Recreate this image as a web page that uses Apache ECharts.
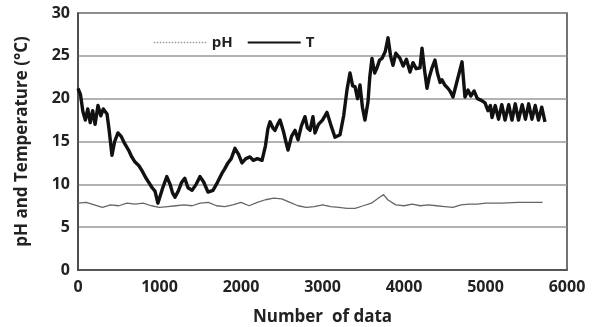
<!DOCTYPE html>
<html>
<head>
<meta charset="utf-8">
<script src="https://cdn.jsdelivr.net/npm/echarts@6/dist/echarts.min.js"></script>
<style>
  html, body { margin: 0; padding: 0; background: #fff; }
  #chart { width: 597px; height: 327px; }
</style>
</head>
<body>
<div id="chart"></div>
<script>
// temperature trace (x = sample number, y = deg C)
const tX = [0, 30, 60, 90, 120, 150, 180, 210, 245, 280, 310, 356, 380, 417, 450, 490, 530, 570, 620, 660,
    700, 745, 785, 830, 870, 910, 945, 980, 1000, 1040, 1090, 1130, 1160, 1190, 1230, 1270, 1310, 1350, 1400, 1450,
    1497, 1540, 1595, 1656, 1710, 1767, 1800, 1840, 1880, 1926, 1970, 2012, 2060, 2110, 2150, 2200, 2258, 2300, 2330, 2356,
    2390, 2417, 2450, 2479, 2520, 2550, 2577, 2620, 2663, 2700, 2740, 2785, 2815, 2847, 2883, 2908, 2950, 3000, 3055, 3100,
    3153, 3215, 3260, 3300, 3337, 3370, 3399, 3430, 3460, 3490, 3521, 3558, 3580, 3607, 3640, 3669, 3700, 3730, 3770, 3804,
    3835, 3865, 3900, 3951, 3990, 4030, 4074, 4110, 4150, 4196, 4221, 4250, 4282, 4310, 4344, 4380, 4410, 4442, 4466, 4500,
    4540, 4570, 4601, 4650, 4712, 4748, 4785, 4820, 4860, 4900, 4950, 4994, 5030, 5060, 5080, 5120, 5160, 5200, 5240, 5285,
    5325, 5365, 5405, 5450, 5490, 5530, 5570, 5610, 5650, 5690, 5730];
const tY = [21.2, 20.5, 18.5, 17.5, 18.8, 17.2, 18.6, 17.0, 19.2, 18.0, 18.8, 18.2, 16.5, 13.4, 15.0, 16.0, 15.6, 14.8, 14.0, 13.2,
    12.6, 12.2, 11.6, 10.8, 10.2, 9.6, 9.2, 7.8, 8.0, 9.6, 10.9, 10.0, 9.0, 8.5, 9.2, 10.2, 10.7, 9.6, 9.3, 10.0,
    10.9, 10.3, 9.1, 9.3, 10.2, 11.3, 11.8, 12.5, 13.0, 14.2, 13.5, 12.5, 13.0, 13.2, 12.8, 13.0, 12.8, 14.5, 16.5, 17.3,
    16.6, 16.3, 17.0, 17.5, 16.2, 15.0, 14.0, 15.6, 16.3, 15.2, 16.8, 17.9, 16.6, 16.3, 17.9, 16.0, 17.0, 17.5, 18.4, 17.0,
    15.5, 15.8, 18.0, 21.0, 23.0, 21.5, 21.4, 20.0, 21.6, 19.0, 17.5, 19.6, 22.5, 24.7, 23.0, 23.6, 24.5, 24.7, 25.5, 27.1,
    25.0, 23.9, 25.3, 24.7, 23.8, 24.6, 23.1, 24.2, 23.5, 23.6, 25.9, 23.5, 21.2, 22.5, 23.6, 24.5, 23.0, 21.9, 22.2, 21.6,
    21.2, 20.8, 20.2, 22.0, 24.3, 20.2, 21.0, 20.3, 20.9, 20.0, 19.8, 19.5, 18.6, 19.2, 17.8, 19.2, 17.6, 19.3, 17.5, 19.3,
    17.5, 19.4, 17.5, 19.3, 17.6, 19.4, 17.6, 19.2, 17.5, 19.0, 17.3];

// pH trace
const phX = [0, 100, 200, 300, 400, 500, 600, 700, 800, 900, 1000, 1100, 1200, 1300, 1400, 1500, 1600, 1700, 1800, 1900,
    2000, 2100, 2200, 2300, 2400, 2500, 2600, 2700, 2800, 2900, 3000, 3100, 3200, 3300, 3400, 3500, 3600, 3700, 3750, 3800,
    3900, 4000, 4100, 4200, 4300, 4400, 4500, 4600, 4700, 4800, 4900, 5000, 5200, 5400, 5600, 5700];
const phY = [7.8, 7.9, 7.6, 7.3, 7.6, 7.5, 7.8, 7.7, 7.8, 7.5, 7.3, 7.4, 7.5, 7.6, 7.5, 7.8, 7.9, 7.5, 7.4, 7.6,
    7.9, 7.5, 7.9, 8.2, 8.4, 8.3, 7.9, 7.5, 7.3, 7.4, 7.6, 7.4, 7.3, 7.2, 7.2, 7.5, 7.8, 8.5, 8.8, 8.2,
    7.6, 7.5, 7.7, 7.5, 7.6, 7.5, 7.4, 7.3, 7.6, 7.7, 7.7, 7.8, 7.8, 7.9, 7.9, 7.9];

const zip = (xs, ys) => xs.map((x, i) => [x, ys[i]]);
const font = "'Open Sans', 'Noto Sans', sans-serif";

const chart = echarts.init(document.getElementById('chart'));
chart.setOption({
    animation: false,
    grid: {
        left: 78, right: 30, top: 13, bottom: 57,
        outerBoundsMode: 'none',
        show: true, borderColor: '#444', borderWidth: 1.5
    },
    legend: {
        left: 148, top: 30,
        itemWidth: 53, itemHeight: 10, itemGap: 14,
        itemStyle: { opacity: 0 },
        textStyle: { fontFamily: font, fontWeight: 'bold', fontSize: 15, color: '#222' },
        data: [
            { name: 'pH', lineStyle: { type: 'dotted', color: '#999', width: 1.5 } },
            { name: 'T', lineStyle: { color: '#111', width: 2 } }
        ]
    },
    xAxis: {
        type: 'value', min: 0, max: 6000, interval: 1000,
        name: 'Number  of data', nameLocation: 'middle', nameGap: 39,
        nameTextStyle: { fontFamily: font, fontWeight: 'bold', fontSize: 17, color: '#222' },
        axisLine: { lineStyle: { color: '#444', width: 1.5 } },
        axisTick: { show: false },
        splitLine: { show: false },
        axisLabel: { fontFamily: font, fontWeight: 'bold', fontSize: 16, color: '#222', margin: 9,
            formatter: v => String(v) }
    },
    yAxis: {
        type: 'value', min: 0, max: 30, interval: 5,
        name: 'pH and Temperature (°C)', nameLocation: 'middle', nameGap: 47,
        nameTextStyle: { fontFamily: font, fontWeight: 'bold', fontSize: 17, color: '#222' },
        axisLine: { show: true, lineStyle: { color: '#444', width: 1.5 } },
        axisTick: { show: false },
        splitLine: { lineStyle: { color: '#999', width: 1.5 } },
        axisLabel: { fontFamily: font, fontWeight: 'bold', fontSize: 16, color: '#222', margin: 8 }
    },
    series: [
        {
            name: 'pH', type: 'line', symbol: 'none',
            lineStyle: { color: '#666', width: 1.3 },
            itemStyle: { color: '#999' },
            data: zip(phX, phY)
        },
        {
            name: 'T', type: 'line', symbol: 'none',
            lineStyle: { color: '#111', width: 3.4, join: 'round' },
            itemStyle: { color: '#111' },
            data: zip(tX, tY)
        }
    ]
});
</script>
</body>
</html>
